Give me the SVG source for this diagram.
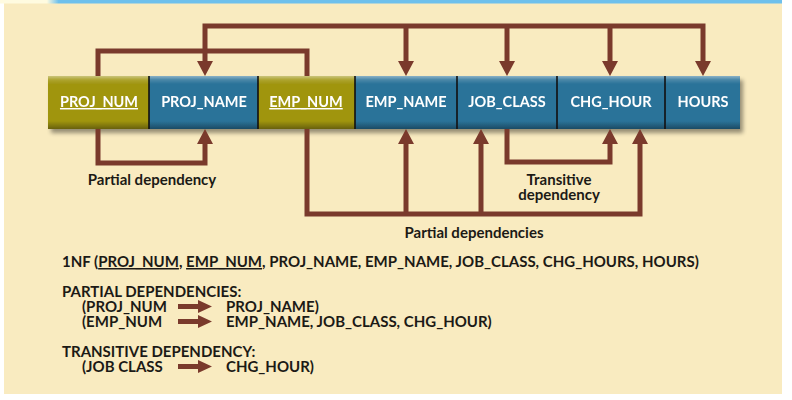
<svg xmlns="http://www.w3.org/2000/svg" width="792" height="400" viewBox="0 0 792 400">
<defs>
<style>
.bg{fill:#f9ebc0}
.olive{fill:#a0950f}
.blue{fill:#2b7399}
.div{stroke:#111;stroke-width:1.6}
.cell{font-family:Lato,"Open Sans",sans-serif;font-weight:bold;font-size:14.5px;fill:#fff;text-anchor:middle}
.conn{fill:none;stroke:#7a3a2c;stroke-width:5;stroke-linejoin:miter}
.lbl{font-family:Lato,"Open Sans",sans-serif;font-weight:bold;font-size:15px;fill:#1c1a16;text-anchor:middle}
.txt{font-family:Lato,"Open Sans",sans-serif;font-weight:bold;font-size:15px;fill:#1c1a16}
.blk{fill:#7a3a2c}
</style>
<marker id="ah" viewBox="0 0 15 16" markerWidth="15" markerHeight="16" refX="5" refY="8" orient="auto-start-reverse" markerUnits="userSpaceOnUse">
<path d="M0,0 L15,8 L0,16 Z" fill="#7a3a2c"/>
</marker>
<linearGradient id="shade" x1="0" y1="0" x2="0" y2="1">
<stop offset="0" stop-color="#fff" stop-opacity="0.45"/>
<stop offset="0.07" stop-color="#fff" stop-opacity="0.15"/>
<stop offset="0.15" stop-color="#fff" stop-opacity="0"/>
<stop offset="0.85" stop-color="#000" stop-opacity="0"/>
<stop offset="1" stop-color="#000" stop-opacity="0.35"/>
</linearGradient>
<linearGradient id="topstrip" x1="0" y1="0" x2="1" y2="0">
<stop offset="0" stop-color="#fffbe0"/>
<stop offset="0.06" stop-color="#fffbe0"/>
<stop offset="0.075" stop-color="#6ec0ec"/>
<stop offset="1" stop-color="#6ec0ec"/>
</linearGradient>
<filter id="sh" x="-5%" y="-20%" width="110%" height="160%">
<feGaussianBlur in="SourceAlpha" stdDeviation="2"/>
<feOffset dx="3" dy="4"/>
<feComponentTransfer><feFuncA type="linear" slope="0.4"/></feComponentTransfer>
<feMerge><feMergeNode/><feMergeNode in="SourceGraphic"/></feMerge>
</filter>
</defs>
<rect x="0" y="0" width="792" height="400" fill="#ffffff"/>
<rect class="bg" x="4" y="3" width="778" height="391"/>
<rect x="0" y="0" width="782" height="3.5" fill="url(#topstrip)"/>

<g id="table" filter="url(#sh)">
<g id="n_proj_num"><rect class="olive" x="48" y="76" width="101" height="53"/><text class="cell" x="99" y="107" text-decoration="underline">PROJ_NUM</text></g>
<g id="n_proj_name"><rect class="blue" x="149" y="76" width="109" height="53"/><text class="cell" x="204" y="107">PROJ_NAME</text></g>
<g id="n_emp_num"><rect class="olive" x="258" y="76" width="97" height="53"/><text class="cell" x="306" y="107" text-decoration="underline">EMP_NUM</text></g>
<g id="n_emp_name"><rect class="blue" x="355" y="76" width="102" height="53"/><text class="cell" x="406" y="107">EMP_NAME</text></g>
<g id="n_job_class"><rect class="blue" x="457" y="76" width="100" height="53"/><text class="cell" x="507" y="107">JOB_CLASS</text></g>
<g id="n_chg_hour"><rect class="blue" x="557" y="76" width="108" height="53"/><text class="cell" x="611" y="107">CHG_HOUR</text></g>
<g id="n_hours"><rect class="blue" x="665" y="76" width="75" height="53"/><text class="cell" x="703" y="107">HOURS</text></g>
<rect x="48" y="76" width="692" height="53" fill="url(#shade)"/>
<line class="div" x1="149" y1="76" x2="149" y2="129"/>
<line class="div" x1="258" y1="76" x2="258" y2="129"/>
<line class="div" x1="355" y1="76" x2="355" y2="129"/>
<line class="div" x1="457" y1="76" x2="457" y2="129"/>
<line class="div" x1="557" y1="76" x2="557" y2="129"/>
<line class="div" x1="665" y1="76" x2="665" y2="129"/>
</g>

<g id="connectors">
<path class="conn" d="M98,76 V51 H307 V76"/>
<path class="conn" d="M205,66 V26 H703 V66" marker-start="url(#ah)" marker-end="url(#ah)"/>
<path class="conn" d="M406,26 V66" marker-end="url(#ah)"/>
<path class="conn" d="M507,26 V66" marker-end="url(#ah)"/>
<path class="conn" d="M610,26 V66" marker-end="url(#ah)"/>
<path class="conn" d="M98,129 V163 H205 V139" marker-end="url(#ah)"/>
<path class="conn" d="M307,129 V214 H640 V139" marker-end="url(#ah)"/>
<path class="conn" d="M406,214 V139" marker-end="url(#ah)"/>
<path class="conn" d="M481,214 V139" marker-end="url(#ah)"/>
<path class="conn" d="M507,129 V162 H610 V139" marker-end="url(#ah)"/>
</g>

<g id="labels">
<text class="lbl" x="152" y="185">Partial dependency</text>
<text class="lbl" x="559" y="185">Transitive</text>
<text class="lbl" x="559" y="200">dependency</text>
<text class="lbl" x="474" y="238">Partial dependencies</text>
</g>

<g id="notes">
<text class="txt" x="62" y="267">1NF (<tspan text-decoration="underline">PROJ_NUM</tspan>, <tspan text-decoration="underline">EMP_NUM</tspan>, PROJ_NAME, EMP_NAME, JOB_CLASS, CHG_HOURS, HOURS)</text>
<text class="txt" x="62" y="297">PARTIAL DEPENDENCIES:</text>
<text class="txt" x="82" y="312">(PROJ_NUM</text>
<text class="txt" x="226" y="312">PROJ_NAME)</text>
<text class="txt" x="82" y="327">(EMP_NUM</text>
<text class="txt" x="226" y="327">EMP_NAME, JOB_CLASS, CHG_HOUR)</text>
<text class="txt" x="62" y="357">TRANSITIVE DEPENDENCY:</text>
<text class="txt" x="82" y="372">(JOB CLASS</text>
<text class="txt" x="226" y="372">CHG_HOUR)</text>
<path class="blk" d="M178,304 H198 V300 L212,306.5 L198,313 V309 H178 Z"/>
<path class="blk" d="M178,319 H198 V315 L212,321.5 L198,328 V324 H178 Z"/>
<path class="blk" d="M178,364 H198 V360 L212,366.5 L198,373 V369 H178 Z"/>
</g>
</svg>
